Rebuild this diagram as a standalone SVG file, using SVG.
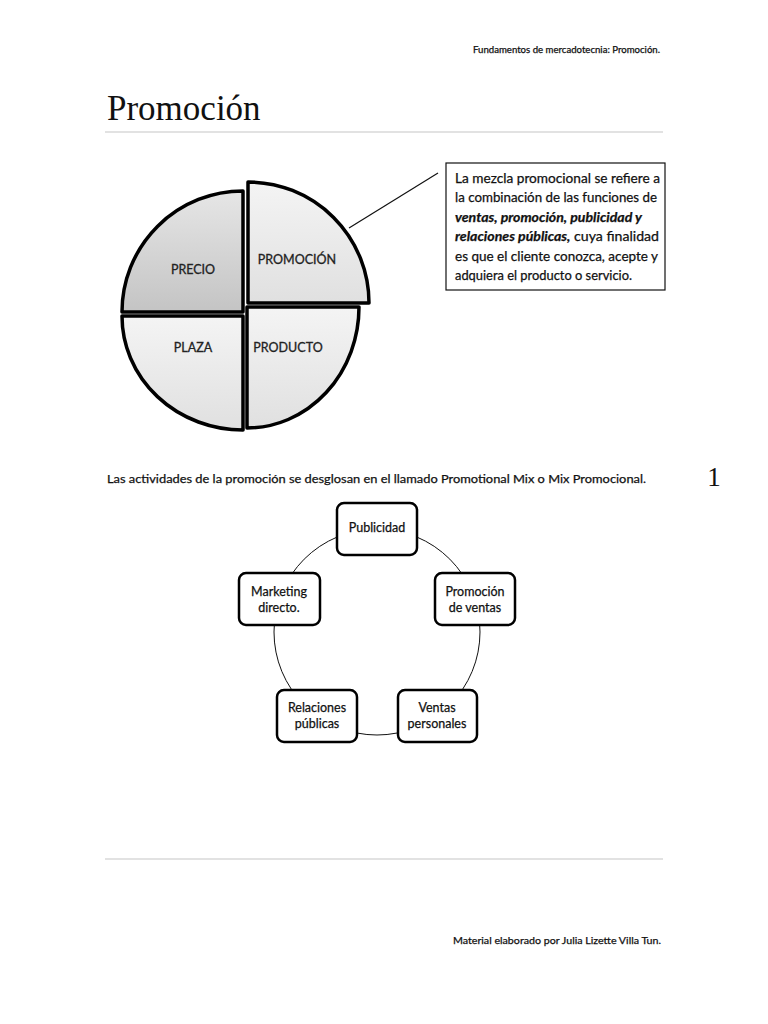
<svg xmlns="http://www.w3.org/2000/svg" width="768" height="1024" viewBox="0 0 768 1024">
  <defs>
    <linearGradient id="gDark" x1="0" y1="0" x2="0" y2="1">
      <stop offset="0" stop-color="#e6e6e6"/>
      <stop offset="1" stop-color="#c4c4c4"/>
    </linearGradient>
    <linearGradient id="gLight" x1="0" y1="0" x2="0" y2="1">
      <stop offset="0" stop-color="#f4f4f4"/>
      <stop offset="1" stop-color="#e0e0e0"/>
    </linearGradient>
    <style>
      .sans { font-family: Lato, "Open Sans", "Liberation Sans", sans-serif; fill: #111; stroke: #111; stroke-width: 0.25; }
      .pie { stroke: #000; stroke-width: 3.5; stroke-linejoin: round; }
      .pl { font-family: Lato, "Open Sans", "Liberation Sans", sans-serif; font-size: 12.5px; fill: #222; stroke: #222; stroke-width: 0.3; text-anchor: middle; }
      .box { fill: #fff; stroke: #000; stroke-width: 2.5; }
      .bt { font-family: Lato, "Open Sans", "Liberation Sans", sans-serif; font-size: 12.5px; fill: #111; stroke: #111; stroke-width: 0.25; text-anchor: middle; }
      .rule { stroke: #e2e2e2; stroke-width: 2; }
      .ct { font-family: Lato, "Open Sans", "Liberation Sans", sans-serif; font-size: 13px; fill: #111; stroke: #111; stroke-width: 0.25; }
    </style>
  </defs>
  <rect width="768" height="1024" fill="#fff"/>

  <!-- header -->
  <text class="sans" x="473" y="53" font-size="9" textLength="187" lengthAdjust="spacingAndGlyphs">Fundamentos de mercadotecnia:  Promoción.</text>
  <text x="107" y="120" font-family="'Liberation Serif', serif" font-size="35" fill="#111">Promoción</text>
  <line class="rule" x1="105" y1="132" x2="663" y2="132"/>

  <!-- pie -->
  <g id="precio">
    <path class="pie" fill="url(#gDark)" d="M243,312 L122,312 A121,121 0 0 1 243,191 Z"/>
    <text class="pl" x="193" y="274">PRECIO</text>
  </g>
  <g id="promocion">
    <path class="pie" fill="url(#gLight)" d="M248,303 L248,182 A121,121 0 0 1 369,303 Z"/>
    <text class="pl" x="297" y="264">PROMOCIÓN</text>
  </g>
  <g id="plaza">
    <path class="pie" fill="url(#gLight)" d="M243,316 L243,430 A121,114 0 0 1 122,316 Z"/>
    <text class="pl" x="193" y="352">PLAZA</text>
  </g>
  <g id="producto">
    <path class="pie" fill="url(#gLight)" d="M247,307 L359,307 A112,121 0 0 1 247,428 Z"/>
    <text class="pl" x="288" y="352">PRODUCTO</text>
  </g>

  <!-- connectors -->
  <g id="connectors" fill="none" stroke="#111">
    <line x1="349" y1="228" x2="438" y2="173" stroke-width="1.2"/>
    <circle cx="377" cy="632" r="103" stroke-width="1"/>
  </g>

  <!-- callout -->
  <g id="callout">
    <rect x="446" y="163" width="219" height="127" fill="#fff" stroke="#111" stroke-width="1.2"/>
    <text class="ct" x="455" y="183" textLength="205" lengthAdjust="spacingAndGlyphs">La mezcla promocional se refiere a</text>
    <text class="ct" x="455" y="202" textLength="202" lengthAdjust="spacingAndGlyphs">la combinación de las funciones de</text>
    <text class="ct" x="455" y="222" font-style="italic" font-weight="bold" textLength="187" lengthAdjust="spacingAndGlyphs">ventas, promoción, publicidad y</text>
    <text class="ct" x="455" y="241" textLength="204" lengthAdjust="spacingAndGlyphs"><tspan font-style="italic" font-weight="bold">relaciones públicas,</tspan> cuya finalidad</text>
    <text class="ct" x="455" y="261" textLength="203" lengthAdjust="spacingAndGlyphs">es que el cliente conozca, acepte y</text>
    <text class="ct" x="455" y="280" textLength="177" lengthAdjust="spacingAndGlyphs">adquiera el producto o servicio.</text>
  </g>

  <text class="sans" x="107" y="483" font-size="12" textLength="539" lengthAdjust="spacingAndGlyphs">Las actividades de la promoción se desglosan en el llamado Promotional Mix o Mix Promocional.</text>
  <text x="714" y="486" font-family="'Liberation Serif', serif" font-size="27" fill="#111" text-anchor="middle">1</text>

  <!-- cycle nodes -->
  <g id="publicidad">
    <rect class="box" x="337" y="503" width="80" height="52" rx="7"/>
    <text class="bt" x="377" y="532">Publicidad</text>
  </g>
  <g id="promocion-ventas">
    <rect class="box" x="435" y="573" width="80" height="52" rx="7"/>
    <text class="bt" x="475" y="596">Promoción</text>
    <text class="bt" x="475" y="612">de ventas</text>
  </g>
  <g id="ventas-personales">
    <rect class="box" x="398" y="690" width="79" height="52" rx="7"/>
    <text class="bt" x="437" y="712">Ventas</text>
    <text class="bt" x="437" y="728">personales</text>
  </g>
  <g id="relaciones-publicas">
    <rect class="box" x="277" y="690" width="80" height="52" rx="7"/>
    <text class="bt" x="317" y="712">Relaciones</text>
    <text class="bt" x="317" y="728">públicas</text>
  </g>
  <g id="marketing-directo">
    <rect class="box" x="239" y="573" width="81" height="52" rx="7"/>
    <text class="bt" x="279" y="596">Marketing</text>
    <text class="bt" x="279" y="612">directo.</text>
  </g>

  <!-- footer -->
  <line class="rule" x1="105" y1="859" x2="663" y2="859"/>
  <text class="sans" x="453" y="944" font-size="10" textLength="208" lengthAdjust="spacingAndGlyphs">Material elaborado por Julia Lizette Villa Tun.</text>
</svg>
